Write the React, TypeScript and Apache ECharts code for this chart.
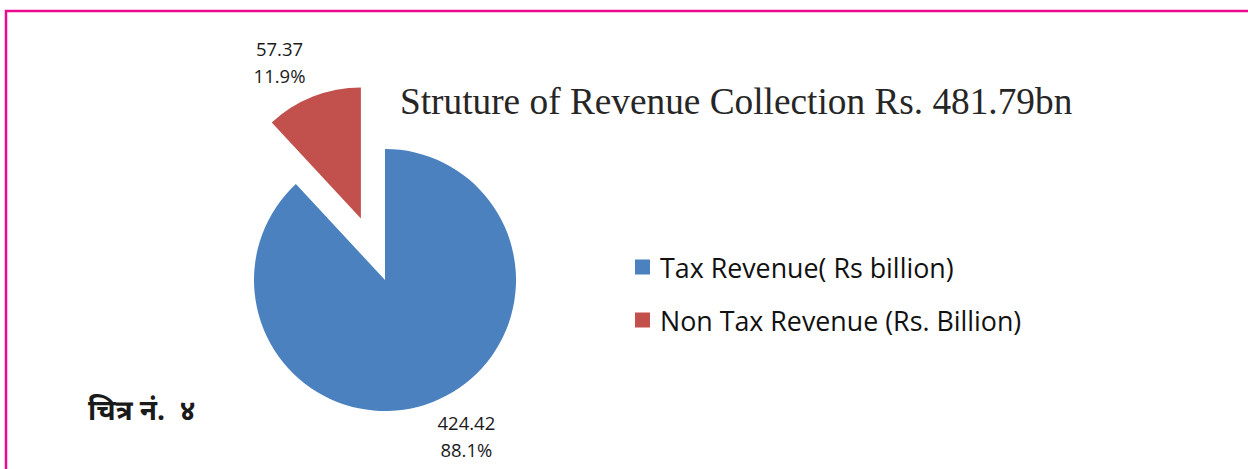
import React, { useEffect, useRef } from "react";
import * as echarts from "echarts";

const categories = ["Tax Revenue( Rs billion)", "Non Tax Revenue (Rs. Billion)"];
const values = [424.42, 57.37];
const colors = ["#4A81BE", "#C2504D"];
const titleText = "Struture of Revenue Collection Rs. 481.79bn";
const figureText = "चित्र नं.  ४";

export default function App() {
  const ref = useRef<HTMLDivElement>(null);
  useEffect(() => {
    document.body.style.margin = "0";
    const chart = echarts.init(ref.current!, null, { renderer: "svg" });
    const option: any = {
      animation: false,
      backgroundColor: "#ffffff",
      title: {
        text: titleText,
        left: 395,
        top: 78,
        textStyle: {
          fontFamily: "Liberation Serif, serif",
          fontSize: 37.3,
          fontWeight: "normal",
          color: "#262626",
        },
      },
      legend: {
        orient: "vertical",
        left: 630,
        top: 247,
        itemWidth: 15,
        itemHeight: 15,
        itemGap: 23,
        icon: "rect",
        selectedMode: false,
        data: categories,
        textStyle: {
          fontFamily: "Open Sans, sans-serif",
          fontSize: 26.8,
          color: "#111111",
          lineHeight: 30,
          padding: [0, 0, 0, 5],
        },
      },
      graphic: [
        {
          type: "rect",
          shape: { x: 6, y: 11, width: 1400, height: 800 },
          style: { fill: "none", stroke: "#EC0A8C", lineWidth: 2.5 },
          silent: true,
        },
        {
          type: "text",
          left: 88,
          top: 399,
          style: {
            text: figureText,
            fontFamily: "Noto Sans Devanagari, Noto Sans, sans-serif",
            fontSize: 28,
            fontWeight: "bold",
            fill: "#1a1a1a",
          },
        },
      ],
      series: [
        {
          type: "pie",
          center: [385, 280],
          radius: 131,
          startAngle: 90,
          clockwise: true,
          avoidLabelOverlap: false,
          percentPrecision: 1,
          selectedMode: "single",
          selectedOffset: 66,
          data: categories.map((name, i) => ({
            name,
            value: values[i],
            selected: i === 1,
            itemStyle: { color: colors[i] },
            select: { itemStyle: { color: colors[i], borderWidth: 0 } },
          })),
          itemStyle: { borderWidth: 0 },
          label: {
            show: true,
            position: "outside",
            formatter: (p: any) => `{v|${p.value}}\n{v|${p.percent}%}`,
            rich: {
              v: {
                width: 62,
                align: "center",
                fontFamily: "Open Sans, sans-serif",
                fontSize: 18.5,
                lineHeight: 27,
                color: "#1a1a1a",
              },
            },
          },
          labelLine: { show: false, length: 37, length2: -16 },
          emphasis: { disabled: true },
        },
      ],
    };
    chart.setOption(option);
    return () => chart.dispose();
  }, []);
  return <div ref={ref} style={{ width: 1248, height: 469 }} />;
}
